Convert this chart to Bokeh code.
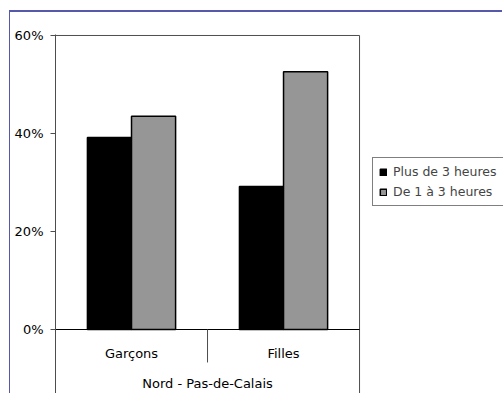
from bokeh.plotting import figure
from bokeh.models import (Range1d, FixedTicker, PrintfTickFormatter,
                          Legend, LegendItem, ColumnDataSource)
from bokeh.core.properties import value
from bokeh.embed import file_html
from bokeh.resources import INLINE

categories = ["Garçons", "Filles"]
group_label = "Nord - Pas-de-Calais"
series_names = ["Plus de 3 heures", "De 1 à 3 heures"]
plus_3h = [39.2, 29.2]
de_1_a_3h = [43.5, 52.6]
y_ticks = [0, 20, 40, 60]

FONT = "DejaVu Sans"
FS = "13px"
LINE = "#4d4d4d"

n = len(categories)
centers = [i + 0.5 for i in range(n)]
BW = 0.29
src = ColumnDataSource(dict(
    cat=categories,
    x1=[c - BW / 2 for c in centers],
    x2=[c + BW / 2 for c in centers],
    xc=centers,
    plus=plus_3h, de=de_1_a_3h))

p = figure(width=493, height=383,
           x_range=Range1d(0, 2.947),
           y_range=Range1d(-13.06, 60.2),
           output_backend="svg", toolbar_location=None,
           x_axis_location=None,
           min_border_left=45, min_border_top=22,
           min_border_right=0, min_border_bottom=2)
p.styles = {"border-top": "2px solid #5659ab", "border-left": "1px solid #5659ab",
            "margin-top": "10px", "margin-left": "9px"}
p.outline_line_color = None
p.grid.visible = False
p.background_fill_color = "white"
p.border_fill_color = "white"

r1 = p.vbar(x="x1", top="plus", width=BW, source=src,
            fill_color="black", line_color="black", line_width=1.5)
r2 = p.vbar(x="x2", top="de", width=BW, source=src,
            fill_color="#969696", line_color="black", line_width=1.5)

p.yaxis.ticker = FixedTicker(ticks=y_ticks)
p.yaxis.formatter = PrintfTickFormatter(format="%d%%")
p.yaxis.major_tick_out = 5
p.yaxis.major_tick_in = 0
p.yaxis.minor_tick_line_color = None
p.yaxis.axis_line_color = LINE
p.yaxis.major_tick_line_color = LINE
p.yaxis.major_label_standoff = 7
p.yaxis.major_label_text_font = FONT
p.yaxis.major_label_text_font_size = FS
p.yaxis.major_label_text_color = "black"

ymin = -13.06
# plot-area box: top, right, zero line, category separators
p.segment(x0=[0], y0=[60], x1=[n], y1=[60], line_color=LINE, line_width=1)
p.segment(x0=[n], y0=[ymin], x1=[n], y1=[60], line_color=LINE, line_width=1)
p.segment(x0=[0], y0=[0], x1=[n], y1=[0], line_color="black", line_width=1)
p.segment(x0=list(range(1, n)), y0=[0] * (n - 1), x1=list(range(1, n)),
          y1=[-6.73] * (n - 1), line_color=LINE, line_width=1)

p.text(x="xc", y=-4.9, text="cat", source=src,
       text_align="center", text_baseline="middle",
       text_font=value(FONT), text_font_size=FS, text_color="black")
p.text(x=[n / 2], y=[-11.0], text=[group_label],
       text_align="center", text_baseline="middle",
       text_font=value(FONT), text_font_size=FS, text_color="black")

legend = Legend(items=[LegendItem(label=series_names[0], renderers=[r1]),
                       LegendItem(label=series_names[1], renderers=[r2])],
                location=(317, 187), glyph_width=8, glyph_height=8,
                label_standoff=6, padding=6, spacing=5, label_height=15,
                label_width=118,
                border_line_color="black", border_line_width=1, margin=0,
                label_text_font=FONT, label_text_font_size="12.5px",
                background_fill_color="white", background_fill_alpha=1)
p.add_layout(legend)

open("out.html", "w").write(file_html(p, INLINE))
